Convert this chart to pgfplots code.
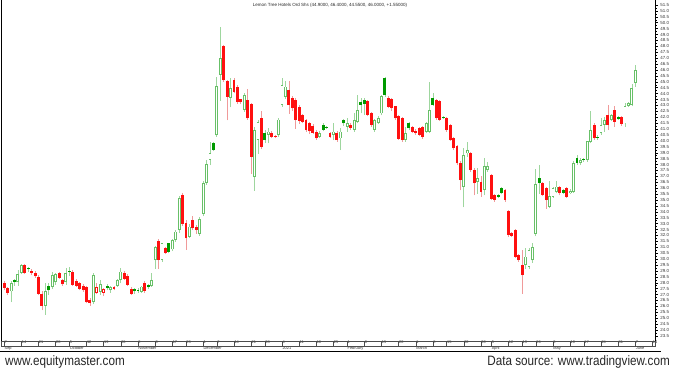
\documentclass[border=0pt]{standalone}
\usepackage{pgfplots}
\usepackage{pgfplotstable}
\pgfplotsset{compat=1.18}
\usepackage{fontspec}
\setmainfont{Liberation Sans}
\newfontfamily\narrowfont[FakeStretch=0.86]{Liberation Sans}
\definecolor{upc}{HTML}{68C068}
\definecolor{upw}{HTML}{9ED69E}
\definecolor{dnc}{HTML}{FF1010}
\definecolor{dnw}{HTML}{F09A9A}
\definecolor{gfill}{HTML}{009A00}

\pgfplotstableread{
i o h l c t
0 27.95 28.15 27.35 27.55 2
1 27.56 27.66 26.96 27.16 2
2 27.26 28.16 26.36 27.96 1
3 28.25 28.35 27.75 28.05 3
4 28.04 29.04 27.74 28.74 1
5 28.82 29.62 28.72 29.52 1
6 29.52 29.62 28.72 28.82 2
7 29.22 29.32 28.92 29.12 3
8 29.03 29.13 28.63 28.83 2
9 28.83 29.03 28.43 28.53 2
10 28.45 28.65 26.95 27.05 2
11 27.07 27.27 25.67 26.07 2
12 26.07 27.97 25.27 27.27 1
13 27.76 27.96 26.96 27.36 3
14 27.64 28.94 27.44 28.64 1
15 28.04 28.84 27.84 28.74 1
16 28.84 28.94 28.34 28.44 2
17 28.25 28.35 27.75 27.85 2
18 28.04 29.24 27.84 28.84 1
19 29.03 29.33 28.53 28.93 3
20 28.94 29.04 27.74 27.84 2
21 28.15 28.35 27.65 27.75 2
22 27.95 28.05 27.35 27.45 2
23 27.75 27.85 27.25 27.35 2
24 27.66 27.76 26.26 26.36 2
25 26.57 26.67 26.07 26.27 2
26 26.36 28.86 26.16 28.66 1
27 27.16 27.96 27.06 27.66 4
28 27.25 28.25 26.95 27.85 1
29 27.16 27.56 26.86 27.46 4
30 27.75 27.85 27.35 27.55 3
31 27.36 27.76 27.16 27.66 1
32 27.65 27.75 27.35 27.45 2
33 27.75 28.35 27.65 28.25 1
34 28.24 29.24 27.94 28.94 1
35 28.83 29.03 28.23 28.33 2
36 28.54 28.74 27.74 27.84 2
37 27.46 27.66 26.96 27.06 2
38 27.46 27.56 27.06 27.26 3
39 27.41 27.56 27.16 27.31 3
40 27.25 27.76 27.16 27.68 1
41 28.01 28.15 27.15 27.32 2
42 27.81 27.85 27.45 27.61 3
43 27.73 28.82 27.65 28.24 1
44 29.92 31.1 29.2 31.01 1
45 31.49 31.69 29.19 29.91 2
46 29.91 31.39 29.79 31.34 1
47 30.91 30.99 30.39 30.54 2
48 31.34 31.39 30.49 30.63 3
49 30.82 31.68 30.68 31.62 1
50 31.61 32.47 31.47 32.33 1
51 32.44 35.34 32.24 35.17 1
52 35.45 35.63 32.83 33.01 2
53 33.05 33.27 30.81 31.76 2
54 31.89 32.96 31.76 32.75 1
55 33.32 33.65 32.45 32.6 2
56 32.75 32.86 32.16 32.46 2
57 32.12 33.56 31.96 33.36 1
58 33.85 36.61 33.61 36.44 1
59 36.47 38.37 36.27 38.07 1
60 38.38 39.94 37.94 38.95 1
61 39.81 39.93 39.13 39.23 3
62 40.47 45.37 40.37 44.63 1
63 45.57 49.6 43.4 47.0 1
64 47.99 48.09 44.99 45.13 2
65 45.04 45.14 41.74 43.74 2
66 43.64 45.34 42.84 44.44 1
67 45.17 45.33 44.03 44.16 2
68 44.6 44.74 43.14 43.31 2
69 43.52 43.55 43.15 43.25 2
70 42.61 44.06 42.46 43.9 1
71 43.48 44.37 41.77 41.9 2
72 43.1 43.22 37.22 38.65 2
73 36.94 41.14 35.79 40.94 1
74 40.1 41.8 38.9 41.6 1
75 41.93 42.5 39.3 39.49 2
76 40.65 40.91 39.81 40.07 3
77 40.51 41.08 39.79 40.79 1
78 40.65 40.81 40.21 40.36 2
79 40.42 40.51 40.21 40.31 2
80 40.5 41.93 40.35 41.8 1
81 43.03 45.35 42.89 44.75 1
82 43.74 45.04 43.54 44.6 1
83 44.32 45.05 42.31 43.03 2
84 43.62 43.76 42.56 42.76 2
85 43.48 43.67 41.04 41.76 2
86 42.87 43.07 41.47 41.67 2
87 42.18 42.28 41.48 41.63 2
88 41.78 41.89 40.79 40.92 2
89 41.5 41.6 40.6 40.8 2
90 41.3 41.4 40.6 40.7 2
91 40.79 40.91 40.11 40.21 2
92 40.36 40.81 40.21 40.65 1
93 41.36 41.5 40.8 40.93 3
94 41.2 41.3 41.0 41.1 3
95 40.65 40.71 40.21 40.36 2
96 40.51 41.51 40.07 40.79 1
97 40.65 40.81 39.91 40.07 2
98 40.21 41.08 39.21 40.79 1
99 41.78 41.89 41.29 41.49 3
100 41.19 41.92 40.77 41.49 1
101 41.36 41.5 40.9 41.07 2
102 40.91 42.35 40.79 41.78 1
103 41.62 43.92 41.48 42.63 1
104 43.33 43.62 42.32 43.04 3
105 43.47 43.62 42.18 43.11 3
106 43.34 43.47 42.07 42.19 2
107 42.34 42.48 41.18 41.34 2
108 40.91 41.89 40.79 41.78 1
109 41.49 42.09 41.39 41.92 1
110 42.32 43.86 42.16 43.76 1
111 45.31 45.43 43.73 43.87 3
112 43.62 43.76 42.76 42.9 2
113 43.53 43.66 42.56 42.76 2
114 42.91 42.97 41.77 41.9 2
115 42.07 42.2 40.1 40.2 2
116 41.93 42.0 39.9 40.06 2
117 40.07 41.21 39.91 40.65 1
118 41.49 41.59 40.89 41.06 3
119 41.21 41.3 40.7 40.78 2
120 40.87 41.0 40.5 40.64 2
121 41.07 41.2 40.4 40.5 2
122 41.21 41.3 40.2 40.35 2
123 40.78 41.6 40.64 41.5 1
124 40.77 44.94 40.63 42.64 1
125 43.61 44.04 42.95 43.03 3
126 43.48 43.57 41.77 41.9 2
127 43.37 43.47 41.67 41.77 2
128 42.05 42.13 41.83 41.91 3
129 41.92 41.99 40.79 40.91 2
130 41.36 41.4 40.0 40.06 2
131 40.22 40.32 39.22 39.36 2
132 39.53 39.64 37.94 38.09 2
133 38.17 38.27 35.82 36.68 2
134 36.1 39.41 34.38 38.83 1
135 38.94 39.94 38.65 39.23 1
136 38.96 39.05 37.35 37.52 2
137 37.55 37.68 35.4 36.4 2
138 36.54 37.69 35.54 36.83 1
139 36.55 36.99 35.26 35.69 2
140 35.83 38.55 35.4 37.84 1
141 37.53 38.25 37.39 37.86 1
142 37.13 37.19 34.99 35.12 2
143 35.43 35.51 34.86 34.99 2
144 35.43 35.51 35.21 35.28 3
145 35.99 36.1 35.5 35.56 3
146 35.86 35.91 34.85 34.99 2
147 34.03 34.15 31.85 32.02 2
148 32.18 32.27 31.87 31.97 2
149 32.48 32.58 30.08 30.18 2
150 30.35 30.41 29.78 29.92 2
151 29.51 30.8 27.07 28.65 2
152 29.49 30.93 29.2 30.21 1
153 29.35 30.93 29.2 30.78 1
154 29.9 31.4 29.7 31.0 1
155 32.13 37.63 31.93 36.33 1
156 36.84 37.99 35.54 36.41 3
157 36.43 36.5 35.3 35.42 2
158 35.99 36.1 34.27 34.99 2
159 34.43 36.59 34.29 35.3 1
160 35.28 36.1 35.2 35.99 1
161 35.71 36.57 35.56 36.14 1
162 36.14 36.2 35.4 35.56 2
163 35.85 35.9 35.5 35.6 3
164 35.99 36.1 35.2 35.28 2
165 35.62 35.9 35.5 35.79 1
166 35.69 38.28 35.58 38.13 1
167 38.53 38.82 37.96 38.16 3
168 38.1 38.55 37.95 38.39 1
169 38.47 38.55 38.25 38.4 3
170 38.37 40.03 38.23 39.95 1
171 39.93 42.52 39.78 40.94 1
172 41.36 41.5 40.1 40.21 2
173 40.36 40.51 40.11 40.26 3
174 40.64 41.93 40.5 41.36 1
175 41.35 42.06 40.77 41.78 1
176 42.2 43.06 40.91 41.34 2
177 41.77 42.28 41.68 42.2 1
178 42.63 42.92 41.19 41.62 2
179 42.0 42.08 41.78 41.82 3
180 42.01 42.09 41.29 41.43 2
181 41.48 43.2 41.19 42.92 1
182 42.95 43.26 42.86 43.18 1
183 43.03 44.8 42.95 44.45 1
184 44.9 46.4 44.55 46.0 1
}\ohlc

\pgfplotsset{
  only/.style={restrict expr to domain={\thisrow{t}}{#1}},
  wick/.style={forget plot, mark=none, draw=#1, line width=0.75pt,
    quiver={u=0, v=\thisrow{h}-\thisrow{l}}},
  upbody/.style={forget plot, mark=none, draw=#1, line width=2.9pt,
    quiver={u=0, v={max(\thisrow{c}-\thisrow{o},0.08)}}},
  upinner/.style={forget plot, mark=none, draw=white, line width=1.1pt,
    quiver={u=0, v={max(\thisrow{c}-\thisrow{o}-0.15,0)}}},
  dnbody/.style={forget plot, mark=none, draw=#1, line width=2.9pt,
    quiver={u=0, v={max(\thisrow{o}-\thisrow{c},0.08)}}},
}

\begin{document}
\begin{tikzpicture}
\path[use as bounding box] (-1pt,-30pt) rectangle (674pt,341pt);
\begin{axis}[
  at={(0pt,0pt)}, anchor=south west,
  scale only axis, width=654pt, height=341pt,
  xmin=-0.933, xmax=189.74, ymin=23.07, ymax=51.92,
  clip=false,
  separate axis lines,
  axis x line*=bottom, axis y line*=right,
  axis line style={line width=0.6pt, black},
  tick align=outside,
  ytick={23.5,24,...,51.5},
  minor y tick num=1,
  yticklabel={\pgfmathprintnumber[fixed,fixed zerofill,precision=1]{\tick}},
  yticklabel style={font=\fontsize{4.4}{5}\selectfont, text=black!80, inner sep=1pt},
  y tick style={black, line width=0.4pt, /pgfplots/major tick length=2.5pt, /pgfplots/minor tick length=1.5pt},
  xtick={0,5,10,15,19,24,29,34,39,44,49,53,58,62,67,72,76,81,86,91,96,100,105,110,115,120,125,129,134,139,142,147,151,155,160,165,169,174,179,184,189},
  xticklabels={7,14,21,28,5,12,19,26,2,9,17,23,1,7,14,21,28,4,11,18,25,1,8,15,22,1,8,15,22,30,5,12,19,26,3,10,17,24,31,7,14},
  x tick style={black!70, line width=0.4pt, /pgfplots/major tick length=5pt},
  xticklabel style={font=\fontsize{3.9}{4}\selectfont, text=black!80, anchor=north west, inner sep=0.3pt, yshift=4.8pt},
  extra x ticks={0,19,39,58,81,100,120,142,160,184},
  extra x tick labels={Sep,October,November,December,2021,February,March,April,May,June},
  extra x tick style={/pgfplots/major tick length=0pt, /pgfplots/tick label style={font=\fontsize{3.3}{4}\selectfont, anchor=north west, yshift=-10.3pt, inner sep=0.2pt}},
  /pgf/number format/assume math mode=true,
]
% wicks
\addplot[wick=upw, only=0.5:1.5] table[x=i, y=l] {\ohlc};
\addplot[wick=upw, only=2.5:3.5] table[x=i, y=l] {\ohlc};
\addplot[wick=dnw, only=1.5:2.5] table[x=i, y=l] {\ohlc};
\addplot[wick=dnw, only=3.5:4.5] table[x=i, y=l] {\ohlc};
% bodies
\addplot[upbody=upc, only=0.5:1.5] table[x=i, y=o] {\ohlc};
\addplot[upinner, only=0.5:1.5] table[x=i, y expr=\thisrow{o}+0.075] {\ohlc};
\addplot[upbody=dnc, only=3.5:4.5] table[x=i, y=o] {\ohlc};
\addplot[upinner, only=3.5:4.5] table[x=i, y expr=\thisrow{o}+0.075] {\ohlc};
\addplot[dnbody=dnc, only=1.5:2.5] table[x=i, y=c] {\ohlc};
\addplot[dnbody=gfill, only=2.5:3.5] table[x=i, y=c] {\ohlc};
\draw[black, line width=0.8pt] (rel axis cs:0,0) -- (rel axis cs:0,1);
\end{axis}
\draw[black!70, line width=0.4pt] (0pt,0pt) rectangle (654pt,-5pt);
\draw[black, line width=1pt] (-1pt,-10.2pt) -- (660pt,-10.2pt);
\node[font=\fontsize{4.5}{5}\selectfont, text=black!85, anchor=center] at (329pt,336pt) {Lemon Tree Hotels Ord Shs (44.9000, 46.4000, 44.5500, 46.0000, +1.55000)};
\node[font=\narrowfont\fontsize{13.6}{14}\selectfont, text=black!85, anchor=base west, inner sep=0pt] at (4pt,-24.5pt) {www.equitymaster.com};
\node[font=\narrowfont\fontsize{13.6}{14}\selectfont, text=black!85, anchor=base east, inner sep=0pt] at (669pt,-24.5pt) {Data source: www.tradingview.com};
\end{tikzpicture}
\end{document}
